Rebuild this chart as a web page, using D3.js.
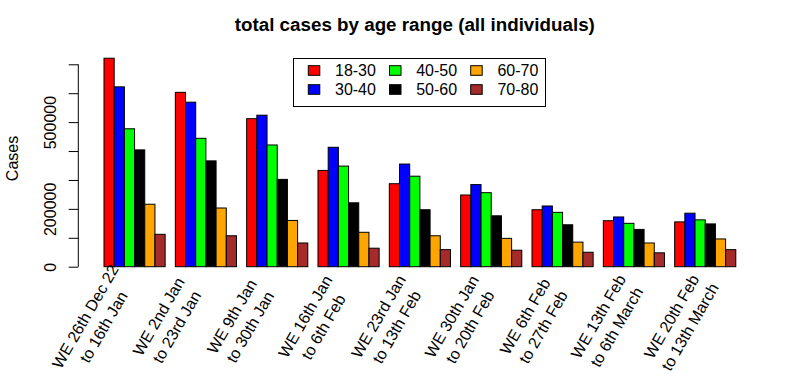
<!DOCTYPE html>
<html>
<head>
<meta charset="utf-8">
<script src="https://cdn.jsdelivr.net/npm/d3@7"></script>
<style>
  html, body { margin: 0; padding: 0; background: #fff; }
  svg { display: block; }
  text { font-family: "Liberation Sans", Arial, Helvetica, sans-serif; fill: #000; }
</style>
</head>
<body>
<svg id="chart" width="801" height="382"></svg>
<script>
// ---- data ----
const categoryLines = [
  ["WE 26th Dec 22", "to 16th Jan"],
  ["WE 2nd Jan", "to 23rd Jan"],
  ["WE 9th Jan", "to 30th Jan"],
  ["WE 16th Jan", "to 6th Feb"],
  ["WE 23rd Jan", "to 13th Feb"],
  ["WE 30th Jan", "to 20th Feb"],
  ["WE 6th Feb", "to 27th Feb"],
  ["WE 13th Feb", "to 6th March"],
  ["WE 20th Feb", "to 13th March"]
];
const seriesNames = ["18-30", "30-40", "40-50", "50-60", "60-70", "70-80"];
const seriesColors = ["#FF0000", "#0000FF", "#00FF00", "#000000", "#FFA500", "#A52A2A"];
const age18_30 = [721000, 603000, 512000, 333000, 287000, 248000, 197000, 159000, 155000];
const age30_40 = [622000, 569000, 524000, 413000, 355000, 284000, 210000, 172000, 185000];
const age40_50 = [477000, 444000, 421000, 348000, 313000, 256000, 188000, 150000, 162000];
const age50_60 = [404000, 366000, 302000, 221000, 197000, 176000, 145000, 129000, 148000];
const age60_70 = [216000, 203000, 160000, 119000, 107000, 98000, 85000, 82000, 96000];
const age70_80 = [112000, 107000, 82000, 64000, 59000, 57000, 50000, 48000, 59000];
const yTicks = [0, 100000, 200000, 300000, 400000, 500000, 600000, 700000];
const yTickLabelsShown = [0, 200000, 500000];
const titleText = "total cases by age range (all individuals)";
const yLabel = "Cases";

const series = [age18_30, age30_40, age40_50, age50_60, age60_70, age70_80];
const nGroups = categoryLines.length;
const nSeries = series.length;
const groupUnits = nSeries + 1;   // one empty unit before each group

// ---- scales ----
const svg = d3.select("#chart");
const x = d3.scaleLinear().domain([0, nGroups * groupUnits]).range([93.8, 735.8]);
const y = d3.scaleLinear().domain([0, 700000]).range([266.7, 64.3]);
const labelX = d3.scaleLinear().domain([0, nGroups - 1]).range([x(0.535), x(58.07)]);

// ---- bars ----
const bars = [];
for (let g = 0; g < nGroups; g++) {
  for (let s = 0; s < nSeries; s++) {
    bars.push({ g, s, v: series[s][g] });
  }
}
svg.append("g").selectAll("rect").data(bars).join("rect")
  .attr("x", d => x(1 + d.g * groupUnits + d.s))
  .attr("width", d => x(2 + d.g * groupUnits + d.s) - x(1 + d.g * groupUnits + d.s))
  .attr("y", d => y(d.v))
  .attr("height", d => y(0) - y(d.v))
  .attr("fill", d => seriesColors[d.s])
  .attr("stroke", "#000")
  .attr("stroke-width", 1);

// ---- y axis ----
const yAxis = d3.axisLeft(y).tickValues(yTicks).tickSize(9.6)
  .tickFormat(d => yTickLabelsShown.includes(d) ? String(d) : "");
const ya = svg.append("g").attr("transform", "translate(78.3,0)").call(yAxis);
ya.select(".domain").attr("d", `M0,${y(0)}V${y(700000)}`).attr("stroke", "#000");
ya.selectAll(".tick line").attr("stroke", "#000");
ya.selectAll(".tick text")
  .attr("x", 0).attr("dy", null).attr("y", 0)
  .attr("transform", "translate(-22.3,0) rotate(-90)")
  .attr("text-anchor", "middle")
  .style("font-size", "16px")
  .style("font-family", "'Liberation Sans', Arial, Helvetica, sans-serif");

// y label
svg.append("text")
  .attr("transform", `translate(18,${(y(0) + y(700000)) / 2 - 7}) rotate(-90)`)
  .attr("text-anchor", "middle")
  .style("font-size", "16px")
  .text(yLabel);

// ---- title ----
svg.append("text")
  .attr("x", x(31.5)).attr("y", 31)
  .attr("text-anchor", "middle")
  .style("font-size", "18.8px").style("font-weight", "bold")
  .text(titleText);

// ---- x category labels ----
const lab = svg.append("g").selectAll("g").data(categoryLines).join("g")
  .attr("transform", (d, i) => `translate(${labelX(i)},324.5) rotate(-60)`);
lab.each(function(lines) {
  const g = d3.select(this);
  lines.forEach((t, k) => {
    g.append("text")
      .attr("x", 0)
      .attr("y", (k - (lines.length - 1) / 2) * 21)
      .attr("text-anchor", "middle")
      .style("font-size", "16px")
      .text(t);
  });
});

// ---- legend ----
const legend = svg.append("g");
legend.append("rect")
  .attr("x", 293.5).attr("y", 58.5).attr("width", 252).attr("height", 48)
  .attr("fill", "#fff").attr("stroke", "#000").attr("stroke-width", 1);
const items = legend.selectAll("g.item").data(seriesNames).join("g")
  .attr("class", "item")
  .attr("transform", (d, i) => `translate(${308.3 + Math.floor(i / 2) * 81.2},${70.5 + (i % 2) * 19})`);
items.append("rect")
  .attr("x", 0).attr("y", -4.8).attr("width", 11.5).attr("height", 9.6)
  .attr("fill", (d, i) => seriesColors[i]).attr("stroke", "#000").attr("stroke-width", 1);
items.append("text")
  .attr("x", 26.7).attr("y", 5.6)
  .style("font-size", "16px")
  .text(d => d);
</script>
</body>
</html>
